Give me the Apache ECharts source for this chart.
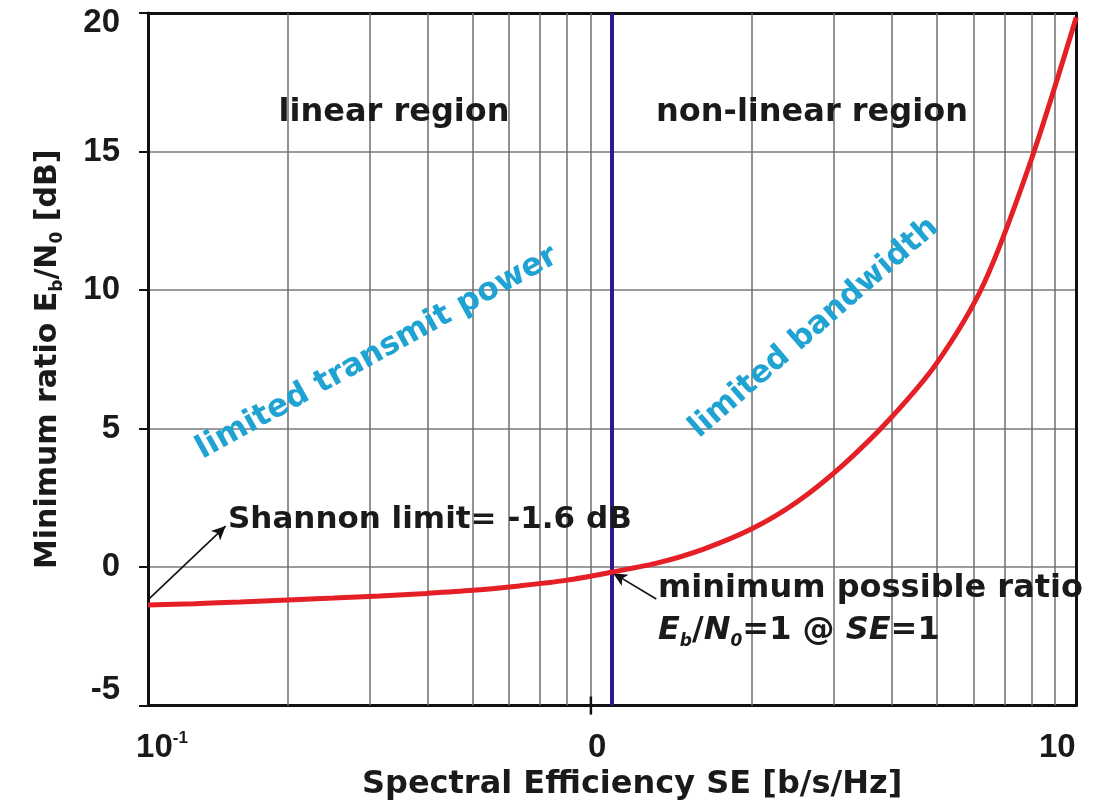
<!DOCTYPE html>
<html><head><meta charset="utf-8">
<script src="https://cdn.jsdelivr.net/npm/echarts@6/dist/echarts.min.js"></script>
<style>html,body{margin:0;padding:0;background:#fff}#c{width:1099px;height:806px}</style>
</head><body><div id="c"></div>
<script>
// ---- data ----
const SE = [0.1, 0.126, 0.158, 0.2, 0.251, 0.316, 0.398, 0.501, 0.631, 0.794, 1.0, 1.26, 1.58, 2.0, 2.51, 3.16, 3.98, 5.01, 6.31, 7.94, 10];
const EbN0dB = [-1.37, -1.32, -1.26, -1.19, -1.12, -1.04, -0.95, -0.84, -0.68, -0.48, -0.18, 0.16, 0.66, 1.38, 2.37, 3.72, 5.37, 7.37, 10.2, 14.55, 19.85];
const minorGridSE = [0.2, 0.3, 0.4, 0.5, 0.6, 0.7, 0.8, 0.9, 2, 3, 4, 5, 6, 7, 8, 9];
const boundarySE = 1;
const xRange = [0.1, 10];
const yRange = [-5, 20];
const yStep = 5;
const xTickLabels = { '-1': '10', '0': '0', '1': '10' };
const midLabelSE = 0.9;
const shannonArrow = [[0.1005, -1.15], [0.147, 1.48]];
const minRatioArrow = [[1.245, -1.15], [1.005, -0.22]];

const FONT = 'DejaVu Sans';
const TXT = '#1a1a1a';
const CYAN = '#1fa3d3';
const FRAME = { show: true, onZero: false, lineStyle: { color: '#111', width: 3 } };

const chart = echarts.init(document.getElementById('c'), null, { renderer: 'canvas' });

const option = {
  animation: false,
  backgroundColor: '#fff',
  grid: { left: 148, top: 13, right: 16, bottom: 99, show: false },
  xAxis: [{
    type: 'log', logBase: 10, min: xRange[0], max: xRange[1], interval: 1,
    axisLine: FRAME, axisTick: { show: false },
    splitLine: { show: false }, minorSplitLine: { show: false },
    axisLabel: {
      margin: 24, showMinLabel: true, showMaxLabel: true,
      formatter: function (v) {
        const e = Math.round(Math.log10(v));
        if (e === -1) return '{pad| }{b|' + xTickLabels['-1'] + '}{s|-1}';
        if (e === 0) return '{b|' + xTickLabels['0'] + '}{pad2| }';
        return '{b|' + xTickLabels['1'] + '}{pad3| }';
      },
      rich: {
        b: { fontFamily: 'Liberation Sans', fontWeight: 'bold', fontSize: 33, color: TXT, lineHeight: 36 },
        s: { fontFamily: 'Liberation Sans', fontWeight: 'bold', fontSize: 17, color: TXT, lineHeight: 17, verticalAlign: 'top' },
        pad: { width: 28, fontSize: 10 },
        pad2: { width: 30, fontSize: 10 },
        pad3: { width: 38, fontSize: 10 }
      }
    },
    name: 'Spectral Efficiency SE [b/s/Hz]', nameLocation: 'middle', nameGap: 60,
    nameTextStyle: { fontFamily: FONT, fontWeight: 'bold', fontSize: 32, color: TXT, padding: [0, 0, 0, 40] }
  }, {
    type: 'log', logBase: 10, min: xRange[0], max: xRange[1], interval: 1, position: 'top',
    axisLine: FRAME, axisTick: { show: false }, axisLabel: { show: false }, splitLine: { show: false }
  }],
  yAxis: [{
    type: 'value', min: yRange[0], max: yRange[1], interval: yStep,
    axisLine: FRAME,
    axisTick: { show: true, length: 9, lineStyle: { color: '#111', width: 2 } },
    splitLine: { show: true, lineStyle: { color: '#7a7a7a', width: 1.5 } },
    axisLabel: {
      margin: 28,
      formatter: function (v) {
        if (v === yRange[0]) return '{lo|' + v + '}';
        if (v === yRange[1]) return '{hi|' + v + '}';
        return '{n|' + v + '}';
      },
      rich: {
        n: { fontFamily: 'Liberation Sans', fontWeight: 'bold', fontSize: 33, color: TXT },
        lo: { fontFamily: 'Liberation Sans', fontWeight: 'bold', fontSize: 33, color: TXT, padding: [0, 0, 32, 0] },
        hi: { fontFamily: 'Liberation Sans', fontWeight: 'bold', fontSize: 33, color: TXT, padding: [20, 0, 0, 0] }
      }
    },
    name: '{t|Minimum ratio E}{s|b}{t|/N}{s|0}{t| [dB]}', nameLocation: 'middle', nameGap: 82,
    nameTextStyle: {
      rich: {
        t: { fontFamily: FONT, fontWeight: 'bold', fontSize: 30, color: TXT, lineHeight: 36 },
        s: { fontFamily: FONT, fontWeight: 'bold', fontSize: 17, color: TXT, lineHeight: 17, verticalAlign: 'bottom' }
      }
    }
  }, {
    type: 'value', min: yRange[0], max: yRange[1], interval: yStep, position: 'right',
    axisLine: FRAME, axisTick: { show: false }, axisLabel: { show: false }, splitLine: { show: false }
  }],
  series: [
    {
      name: 'grid', type: 'line', data: [], z: 1, silent: true,
      markLine: {
        silent: true, symbol: 'none', animation: false, label: { show: false },
        lineStyle: { color: '#6e6e6e', width: 1.5, type: 'solid' },
        emphasis: { disabled: true },
        data: minorGridSE.map(v => ({ xAxis: v }))
      }
    },
    {
      name: 'boundary', type: 'line', data: [], z: 2, silent: true,
      markLine: {
        silent: true, symbol: 'none', animation: false, label: { show: false },
        lineStyle: { color: '#2e1890', width: 4, type: 'solid' },
        emphasis: { disabled: true },
        data: [{ xAxis: boundarySE }]
      }
    },
    {
      name: 'Eb/N0', type: 'line', z: 5, silent: true,
      data: SE.map((x, i) => [x, EbN0dB[i]]),
      smooth: 0.3, showSymbol: false, symbol: 'none',
      lineStyle: { color: '#e41f26', width: 5 }
    },
    {
      name: 'arrows', type: 'line', data: [], z: 6, silent: true,
      markLine: {
        silent: true, animation: false, label: { show: false },
        lineStyle: { color: '#111', width: 1.6, type: 'solid' },
        emphasis: { disabled: true },
        symbolSize: [10, 14],
        data: [
          [{ coord: shannonArrow[0], symbol: 'none' }, { coord: shannonArrow[1], symbol: 'arrow' }],
          [{ coord: minRatioArrow[0], symbol: 'none' }, { coord: minRatioArrow[1], symbol: 'arrow' }]
        ]
      }
    }
  ]
};
chart.setOption(option);

// annotations and the single x tick, positioned through the axes
const p09 = chart.convertToPixel({ xAxisIndex: 0, yAxisIndex: 0 }, [midLabelSE, yRange[0]]);
const bold = (size) => 'bold ' + size + 'px "' + FONT + '"';
chart.setOption({
  graphic: [
    { type: 'line', z: 100, shape: { x1: p09[0], y1: p09[1] - 9, x2: p09[0], y2: p09[1] + 9 }, style: { stroke: '#111', lineWidth: 2.5 } },
    { type: 'text', z: 100, x: 394, y: 113, style: { text: 'linear region', font: bold(32), fill: TXT, align: 'center', verticalAlign: 'middle' } },
    { type: 'text', z: 100, x: 812, y: 113, style: { text: 'non-linear region', font: bold(32), fill: TXT, align: 'center', verticalAlign: 'middle' } },
    { type: 'text', z: 100, x: 377, y: 353, rotation: 29 * Math.PI / 180, style: { text: 'limited transmit power', font: bold(31.5), fill: CYAN, align: 'center', verticalAlign: 'middle' } },
    { type: 'text', z: 100, x: 814, y: 328, rotation: 41 * Math.PI / 180, style: { text: 'limited bandwidth', font: bold(31), fill: CYAN, align: 'center', verticalAlign: 'middle' } },
    { type: 'text', z: 100, x: 228, y: 520, style: { text: 'Shannon limit= -1.6 dB', font: bold(31), fill: TXT, align: 'left', verticalAlign: 'middle' } },
    { type: 'text', z: 100, x: 658, y: 589, style: { text: 'minimum possible ratio', font: bold(32), fill: TXT, align: 'left', verticalAlign: 'middle' } },
    { type: 'text', z: 100, x: 658, y: 631, style: {
        text: '{i|E}{si|b}{n|/}{i|N}{si|0}{n|=1 @ }{i|SE}{n|=1}', align: 'left', verticalAlign: 'middle',
        rich: {
          i: { fontFamily: FONT, fontWeight: 'bold', fontStyle: 'italic', fontSize: 32, fill: TXT, lineHeight: 38 },
          n: { fontFamily: FONT, fontWeight: 'bold', fontSize: 32, fill: TXT, lineHeight: 38 },
          si: { fontFamily: FONT, fontWeight: 'bold', fontStyle: 'italic', fontSize: 17, fill: TXT, lineHeight: 17, verticalAlign: 'bottom' }
        }
      } }
  ]
});
</script></body></html>
